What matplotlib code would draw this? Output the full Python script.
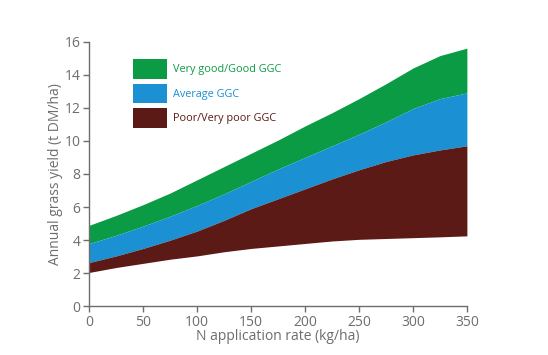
import numpy as np
import matplotlib.pyplot as plt
from matplotlib.patches import Patch

plt.rcParams['font.family'] = ['Open Sans', 'DejaVu Sans']

# N application rate (kg/ha)
n_rate = [0, 25, 50, 75, 100, 125, 150, 175, 200, 225, 250, 275, 300, 325, 350]
# boundaries of the yield bands (t DM/ha)
poor_low = [2.05, 2.35, 2.6, 2.85, 3.05, 3.3, 3.5, 3.65, 3.8, 3.95, 4.05, 4.1, 4.15, 4.2, 4.26]
poor_high = [2.65, 3.05, 3.5, 4.0, 4.55, 5.2, 5.9, 6.5, 7.1, 7.7, 8.25, 8.75, 9.15, 9.45, 9.7]
avg_high = [3.8, 4.3, 4.85, 5.45, 6.1, 6.8, 7.55, 8.3, 9.0, 9.7, 10.4, 11.15, 11.95, 12.55, 12.9]
good_high = [4.9, 5.5, 6.15, 6.85, 7.65, 8.45, 9.25, 10.05, 10.9, 11.7, 12.55, 13.45, 14.4, 15.15, 15.6]

labels = ['Very good/Good GGC', 'Average GGC', 'Poor/Very poor GGC']
colors = ['#0b9b45', '#1b90d2', '#5b1a15']
grey = '#6d6d6d'

fig = plt.figure(figsize=(5.48, 3.55), dpi=100)
ax = fig.add_axes([0.163, 0.137, 0.689, 0.746])

ax.fill_between(n_rate, avg_high, good_high, color=colors[0], lw=0)
ax.fill_between(n_rate, poor_high, avg_high, color=colors[1], lw=0)
ax.fill_between(n_rate, poor_low, poor_high, color=colors[2], lw=0)

ax.set_xlim(0, 350)
ax.set_ylim(0, 16)
ax.set_xticks(np.arange(0, 351, 50))
ax.set_yticks(np.arange(0, 17, 2))

for s in ['top', 'right']:
    ax.spines[s].set_visible(False)
for s in ['left', 'bottom']:
    ax.spines[s].set_color(grey)
    ax.spines[s].set_linewidth(1.0)
ax.tick_params(colors=grey, labelsize=10, length=4, width=1, direction='out', pad=2.5)

ax.set_xlabel('N application rate (kg/ha)', color=grey, fontsize=10, labelpad=-1)
ax.set_ylabel('Annual grass yield (t DM/ha)', color=grey, fontsize=10, labelpad=1)

handles = [Patch(facecolor=c, edgecolor='none') for c in colors]
leg = ax.legend(handles, labels, loc='upper left', bbox_to_anchor=(0.104, 0.95),
                frameon=False, fontsize=7.8, handlelength=3.1, handleheight=2.45,
                labelspacing=0.42, handletextpad=0.6, borderaxespad=0)
for t, c in zip(leg.get_texts(), colors):
    t.set_color(c)

fig.savefig('out.png', dpi=100)
